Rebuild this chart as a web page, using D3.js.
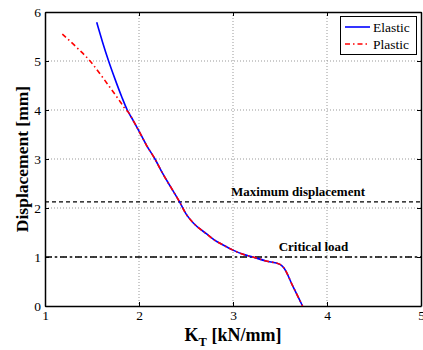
<!DOCTYPE html>
<html>
<head>
<meta charset="utf-8">
<script src="https://cdn.jsdelivr.net/npm/d3@7"></script>
<style>
  body { margin: 0; background: #fff; }
</style>
</head>
<body>
<svg width="423" height="350" font-family="Liberation Serif, DejaVu Serif, serif"></svg>
<script>
// values
let elasticK = [1.55, 1.61, 1.673, 1.745, 1.816, 1.875, 1.94, 2.0, 2.08, 2.17, 2.25, 2.34, 2.43, 2.50, 2.58, 2.72, 2.80, 2.90, 3.0, 3.1, 3.21, 3.35, 3.50, 3.54, 3.64, 3.74];
let elasticD = [5.79, 5.40, 5.02, 4.63, 4.27, 4.0, 3.78, 3.57, 3.28, 3.0, 2.71, 2.42, 2.13, 1.88, 1.69, 1.47, 1.35, 1.24, 1.14, 1.06, 1.0, 0.92, 0.85, 0.78, 0.39, 0.0];
let plasticK = [1.184, 1.33, 1.479, 1.60, 1.71, 1.80, 1.85, 1.90, 1.94, 2.0, 2.08, 2.17, 2.25, 2.34, 2.43, 2.50, 2.58, 2.72, 2.80, 2.90, 3.0, 3.1, 3.21, 3.35, 3.50, 3.54, 3.64, 3.74];
let plasticD = [5.55, 5.29, 5.0, 4.70, 4.41, 4.17, 4.03, 3.92, 3.78, 3.57, 3.28, 3.0, 2.71, 2.42, 2.13, 1.88, 1.69, 1.47, 1.35, 1.24, 1.14, 1.06, 1.0, 0.92, 0.85, 0.78, 0.39, 0.0];
let maxDisp = 2.125;
let critLoad = 1.0;
let xTicks = [1, 2, 3, 4, 5];
let yTicks = [0, 1, 2, 3, 4, 5, 6];

let pL = 45, pR = 421, pT = 12, pB = 306;
let serif = "Liberation Serif, DejaVu Serif, serif";

let svg = d3.select("svg");

let x = d3.scaleLinear().domain([1, 5]).range([pL, pR]);
let y = d3.scaleLinear().domain([0, 6]).range([pB, pT]);

// grid
svg.append("g").selectAll("line")
    .data(xTicks.slice(1, -1))
    .enter().append("line")
      .attr("x1", d => x(d)).attr("x2", d => x(d))
      .attr("y1", pT).attr("y2", pB)
      .style("stroke", "#999").style("stroke-dasharray", "1,2").style("stroke-width", 1);
svg.append("g").selectAll("line")
    .data(yTicks.slice(1, -1))
    .enter().append("line")
      .attr("x1", pL).attr("x2", pR)
      .attr("y1", d => y(d)).attr("y2", d => y(d))
      .style("stroke", "#999").style("stroke-dasharray", "1,2").style("stroke-width", 1);

// axes, ticks inward on all four sides
let fmt = d3.format("d");
let axB = svg.append("g").attr("transform", "translate(0," + pB + ")")
    .call(d3.axisBottom(x).tickValues(xTicks).tickFormat(fmt).tickSizeInner(-4).tickSizeOuter(0).tickPadding(5));
let axT = svg.append("g").attr("transform", "translate(0," + pT + ")")
    .call(d3.axisTop(x).tickValues(xTicks).tickSizeInner(-4).tickSizeOuter(0).tickFormat(""));
let axL = svg.append("g").attr("transform", "translate(" + pL + ",0)")
    .call(d3.axisLeft(y).tickValues(yTicks).tickFormat(fmt).tickSizeInner(-4).tickSizeOuter(0).tickPadding(4));
let axR = svg.append("g").attr("transform", "translate(" + pR + ",0)")
    .call(d3.axisRight(y).tickValues(yTicks).tickSizeInner(-4).tickSizeOuter(0).tickFormat(""));

[axB, axT, axL, axR].forEach(function(a) {
  a.attr("font-family", serif).attr("font-size", 13.5);
  a.selectAll("path").style("stroke", "#000").style("stroke-width", 1.5);
  a.selectAll("line").style("stroke", "#000");
  a.selectAll("text").style("fill", "#000");
});
axB.selectAll("text").attr("dy", "0.7em");

// reference lines
svg.append("line")
    .attr("x1", pL).attr("x2", pR).attr("y1", y(maxDisp)).attr("y2", y(maxDisp))
    .style("stroke", "#000").style("stroke-width", 1.3).style("stroke-dasharray", "4,3");
svg.append("line")
    .attr("x1", pL).attr("x2", pR).attr("y1", y(critLoad)).attr("y2", y(critLoad))
    .style("stroke", "#000").style("stroke-width", 1.3).style("stroke-dasharray", "7,3,2,3");

svg.append("text").attr("x", 298).attr("y", 196).attr("text-anchor", "middle")
    .attr("font-family", serif).attr("font-size", 13).attr("font-weight", "bold")
    .text("Maximum displacement");
svg.append("text").attr("x", 313.5).attr("y", 251).attr("text-anchor", "middle")
    .attr("font-family", serif).attr("font-size", 13).attr("font-weight", "bold")
    .text("Critical load");

// curves
let line = d3.line().x(d => x(d[0])).y(d => y(d[1])).curve(d3.curveMonotoneX);
let elastic = d3.zip(elasticK, elasticD);
let plastic = d3.zip(plasticK, plasticD);

svg.append("path").datum(elastic).attr("d", line)
    .style("fill", "none").style("stroke", "#0000ff").style("stroke-width", 1.6);
svg.append("path").datum(plastic).attr("d", line)
    .style("fill", "none").style("stroke", "#ff0000").style("stroke-width", 1.6)
    .style("stroke-dasharray", "5,3,1.5,3");

// legend
let lg = svg.append("g").attr("font-family", serif).attr("font-size", 13.5);
lg.append("rect").attr("x", 340.5).attr("y", 16.5).attr("width", 76).attr("height", 38)
    .style("fill", "#fff").style("stroke", "#000").style("stroke-width", 1);
lg.append("line").attr("x1", 345).attr("x2", 370).attr("y1", 27).attr("y2", 27)
    .style("stroke", "#0000ff").style("stroke-width", 1.6);
lg.append("line").attr("x1", 345).attr("x2", 370).attr("y1", 44).attr("y2", 44)
    .style("stroke", "#ff0000").style("stroke-width", 1.6).style("stroke-dasharray", "5,3,1.5,3");
lg.append("text").attr("x", 373).attr("y", 31.5).text("Elastic");
lg.append("text").attr("x", 373).attr("y", 48.5).text("Plastic");

// axis titles
svg.append("text")
    .attr("transform", "translate(28,159) rotate(-90)")
    .attr("text-anchor", "middle")
    .attr("font-family", serif).attr("font-size", 17.5).attr("font-weight", "bold")
    .text("Displacement [mm]");

let xl = svg.append("text").attr("x", 233).attr("y", 341).attr("text-anchor", "middle")
    .attr("font-family", serif).attr("font-size", 18).attr("font-weight", "bold");
xl.append("tspan").text("K");
xl.append("tspan").attr("dy", 5).attr("font-size", 12.5).text("T");
xl.append("tspan").attr("dy", -5).text(" [kN/mm]");
</script>
</body>
</html>
